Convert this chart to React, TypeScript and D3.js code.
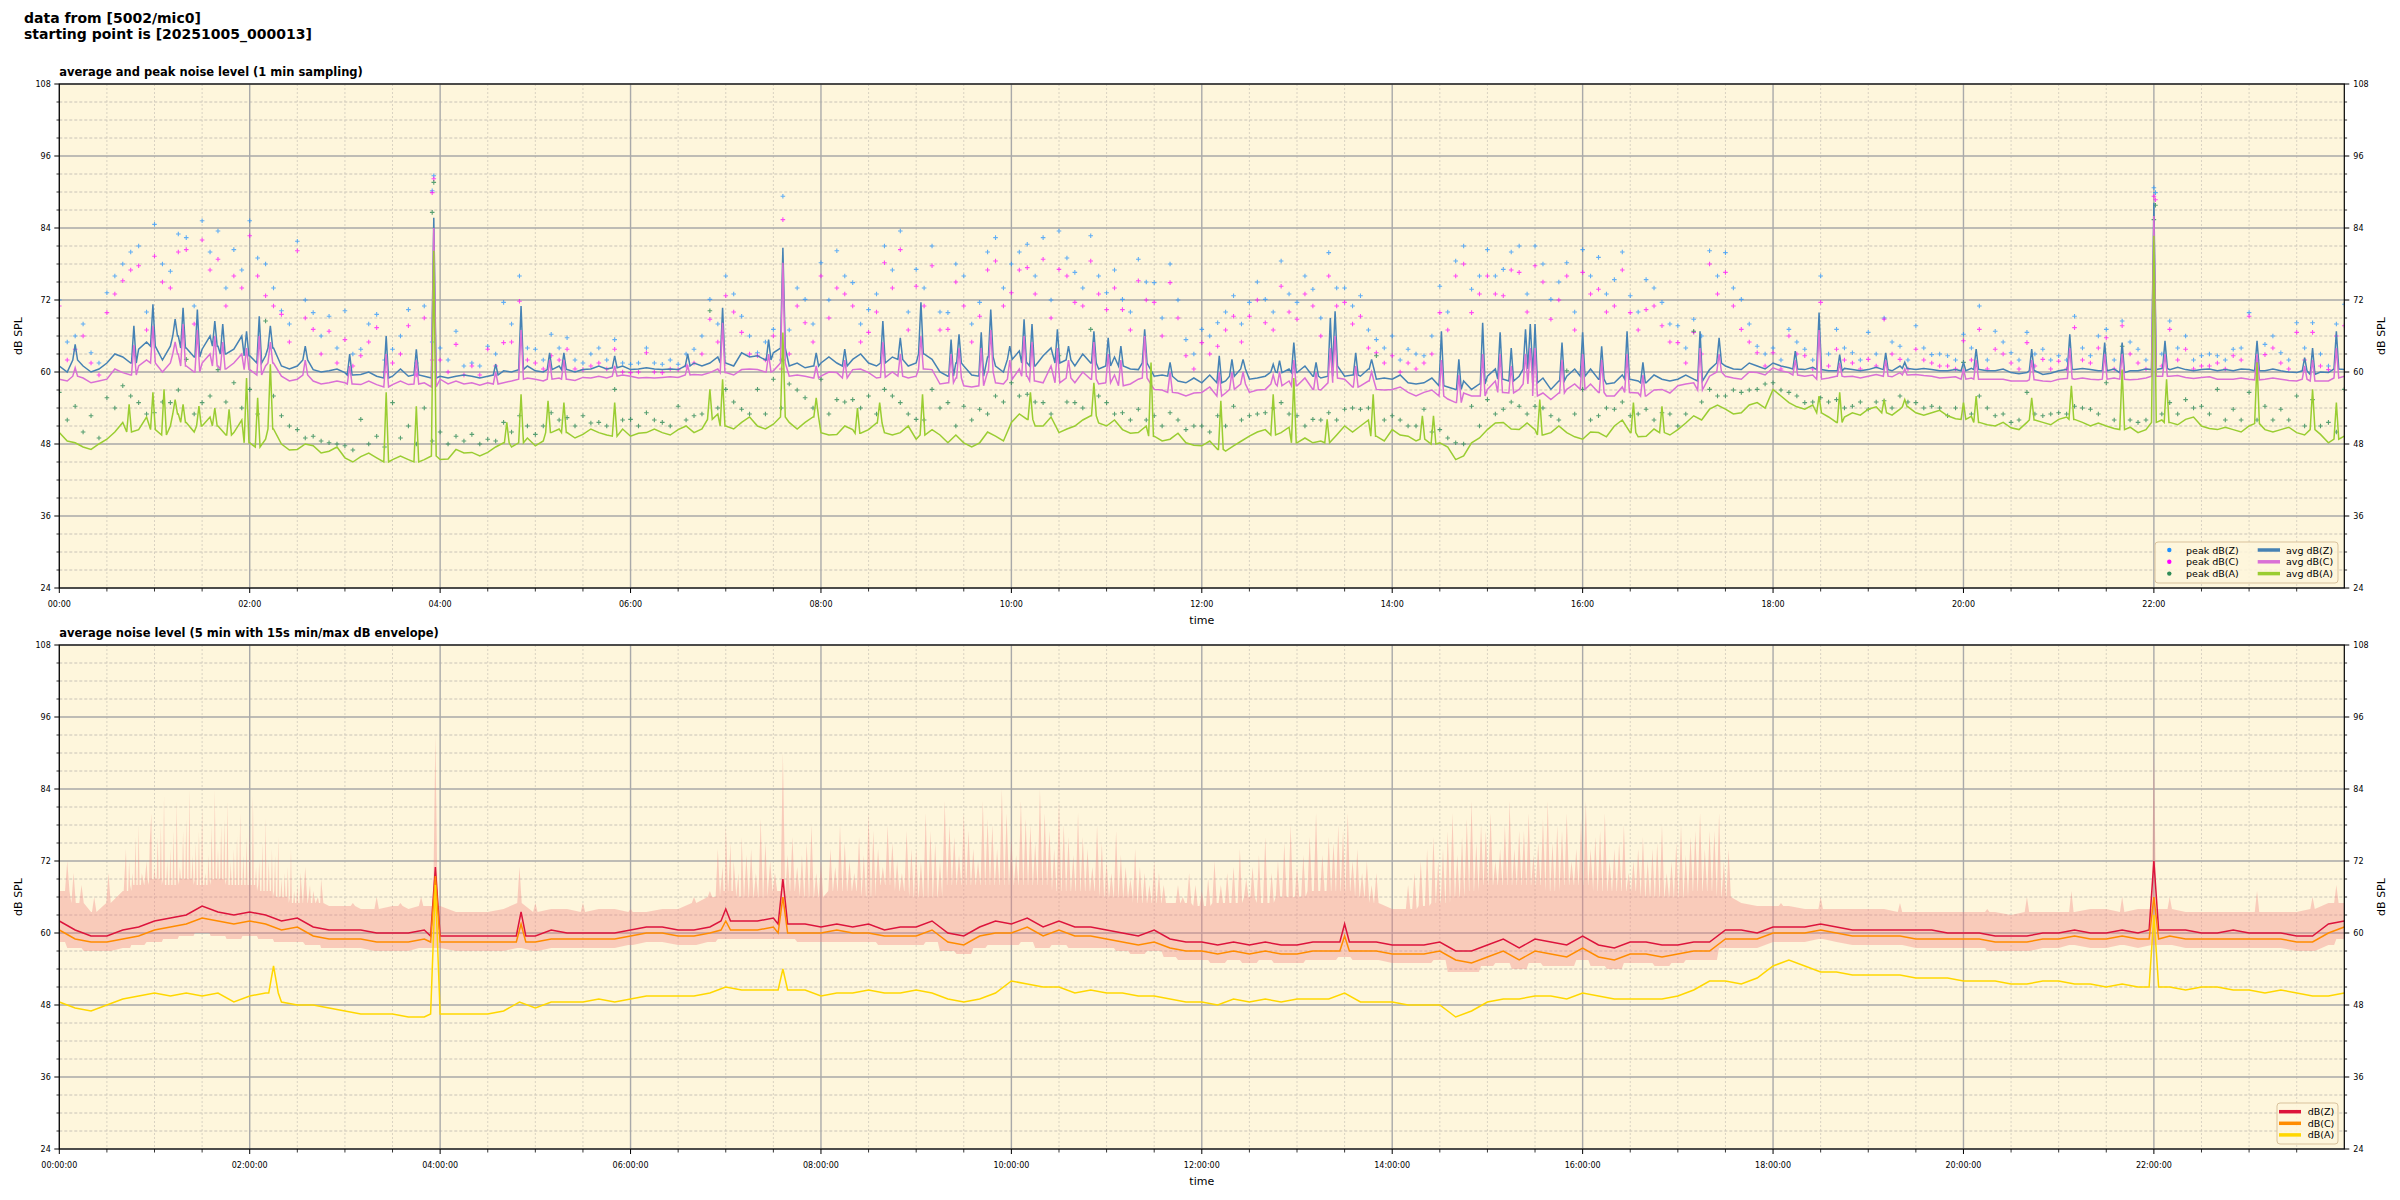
import React from 'react';
import * as d3 from 'd3';

// ---------- data (10-minute samples, index i -> minute i*10) ----------
const STEP = 10;

const avgZ = [
  61, 62, 60, 61.5, 62.5, 63.8,
  64.3, 64.3, 64, 63.8, 64.3, 63.8,
  62.7, 62.7, 61, 61, 60.4, 60.2,
  59.9, 59.6, 59.3, 59.3, 59.3, 59.3,
  59.3, 59.3, 59.3, 59.3, 60.2, 60.4,
  60.2, 60.4, 60.4, 60.4, 61, 60.7,
  60.4, 60.7, 60.4, 60.4, 61.5, 61.5,
  61.5, 63.2, 62.7, 63.2, 61, 60.7,
  61.5, 61.5, 62.1, 61.5, 61.5, 62.1,
  61.5, 62.1, 59.3, 61, 59.3, 61,
  62.1, 61.5, 62.7, 61.5, 61, 61.5,
  61, 61, 60.4, 59.3, 59.3, 58.2,
  58.2, 58.2, 59.3, 58.8, 59.3, 59.9,
  59.9, 59.3, 59.3, 59.3, 59.3, 58.8,
  58.8, 58.2, 58.2, 57.7, 57.1, 57.1,
  59.3, 58.8, 59.3, 58.2, 57.1, 59.3,
  59.3, 58.8, 58.2, 58.8, 58.2, 58.8,
  58.8, 58.8, 60.4, 61, 60.4, 61,
  61.5, 60.7, 60.4, 60.4, 60.2, 60.4,
  60.4, 60.4, 61, 60.4, 60.4, 60.2,
  60.2, 60.4, 60.2, 59.9, 59.9, 59.6,
  60.2, 60.4, 60.4, 60.2, 59.9, 60.2,
  60.4, 60.4, 60.4, 60.4, 60.2, 60.2,
  60.4, 60.2, 60.2, 59.9, 59.6, 59.9,
  60.4,
];
// readings 5 min after each grid point (minute i*10+5)
const avgZ2 = [
  60, 61, 60.5, 63, 61.5, 65,
  62, 66, 62.5, 66, 63, 66,
  61.5, 64, 60.5, 62, 60, 60.5,
  59.5, 60, 59, 60.5, 59.5, 59,
  59, 59.5, 59, 59.5, 60, 61,
  60, 61, 60, 60.5, 60.5, 61,
  60.5, 60.5, 60.5, 61, 61, 62.5,
  61, 62.5, 62, 64, 61.5, 61,
  62.5, 61, 63, 61, 62.5, 61,
  63, 60, 61.5, 59.5, 62.5, 60,
  63.5, 61, 64, 62, 63, 60.5,
  62.5, 60.5, 61.5, 59.5, 58.5, 59,
  59.5, 58.5, 60.5, 59, 60, 60.5,
  61, 59, 61, 59.5, 60.5, 59,
  59.5, 58, 59, 57.5, 58.5, 58,
  60.5, 58.5, 60.5, 59, 58.5, 60.5,
  60.5, 58, 59.5, 58.5, 59.5, 58.5,
  59.5, 58.5, 61.5, 60.5, 61.5, 60.5,
  61, 60.5, 60.8, 60.2, 60.6, 60.2,
  60.8, 60.2, 60.6, 60.6, 60.2, 60.4,
  60.6, 60.2, 60.5, 59.7, 60.2, 59.8,
  60.4, 60.6, 60.2, 60.5, 60.2, 60.5,
  60.6, 60.8, 60.2, 60.5, 60.4, 60.5,
  60.2, 60.5, 60, 60.2, 60, 60.5,
];
const avgC = [
  58.8, 59.3, 58.2, 58.8, 59.9, 61,
  61.5, 61.5, 61, 61.5, 61, 61.5,
  60.4, 61, 59.3, 58.8, 58.5, 58.2,
  58.2, 57.9, 57.9, 57.9, 57.9, 58.2,
  58.8, 58.5, 58.2, 58.2, 58.2, 58.8,
  58.8, 58.8, 58.8, 59.1, 59.3, 59.3,
  59.3, 59.1, 59.1, 59.1, 59.6, 59.9,
  59.9, 60.4, 60.4, 60.2, 59.3, 59.3,
  59.3, 59.9, 60.4, 59.9, 59.1, 59.3,
  59.3, 60.4, 58.2, 57.7, 57.7, 58.2,
  58.8, 59.3, 58.2, 58.2, 58.2, 58.8,
  58.2, 57.7, 58.8, 57.1, 56.6, 56,
  56.6, 56, 57.1, 56.6, 57.1, 57.7,
  57.7, 57.1, 58.2, 58.8, 57.7, 57.1,
  57.1, 56.6, 56.6, 56, 54.9, 56,
  57.1, 56.6, 57.1, 56, 55.4, 57.1,
  57.1, 56.6, 56, 56.6, 56, 57.1,
  57.7, 58.2, 59.3, 59.3, 58.8, 59.9,
  60.7, 59.9, 59.3, 58.8, 59.3, 59.3,
  59.3, 59.3, 59.9, 59.6, 59.3, 59.1,
  58.8, 58.8, 58.8, 58.5, 58.5, 58.5,
  58.8, 58.8, 58.8, 58.8, 58.8, 58.8,
  59.3, 59.3, 59.1, 59.1, 58.8, 58.8,
  58.8, 58.8, 58.8, 58.5, 58.5, 58.5,
  59.3,
];
const avgC2 = [
  58.5, 59, 58.5, 60.5, 59.5, 62,
  60, 63, 60, 63, 60.5, 63,
  59.5, 61.5, 58.5, 59.5, 58, 58.5,
  58, 58.5, 57.5, 58.5, 58, 57.5,
  58, 58, 57.8, 58, 58.5, 59,
  58.5, 59, 58.6, 59, 59, 59.5,
  59, 59, 59.2, 59.5, 59.5, 60.5,
  59.5, 60.5, 60, 61.5, 59.5, 59,
  60, 59, 60.5, 59, 60, 59,
  60.5, 58, 59, 57.5, 60, 58,
  60.5, 58.5, 61, 59, 60, 58,
  59.5, 58, 59, 57, 56.5, 56.5,
  57.5, 56.5, 58, 57, 58, 58.5,
  59, 57, 59, 57.5, 58.5, 57,
  57.5, 56, 57, 55.5, 56.5, 56,
  58.5, 56.5, 58, 56.5, 56.5, 58,
  58, 56, 57.5, 56.5, 57, 56.5,
  58, 57, 60, 59, 60, 59.5,
  60.2, 59.5, 59.5, 59, 59.2, 59,
  59.6, 59.2, 59.5, 59.4, 59, 59.2,
  59, 58.8, 58.8, 58.5, 58.7, 58.4,
  58.9, 59, 58.7, 59, 58.7, 59,
  59.3, 59.4, 58.9, 59.2, 58.8, 59,
  58.7, 59, 58.6, 58.8, 58.5, 59,
];
const avgA = [
  49.9, 48.2, 47.1, 48.8, 51.6, 50.4,
  50.4, 51, 51.6, 51, 51, 49.9,
  48.2, 48.8, 48, 47.1, 47.7, 46.8,
  45.7, 45.9, 45.7, 45.4, 45.4, 45.4,
  45.4, 47.1, 46.6, 46.6, 48.2, 48.2,
  47.7, 49.9, 49.9, 49.6, 49.9, 49.3,
  49.3, 49.9, 49.9, 50.4, 49.9, 52.1,
  51, 51.6, 51, 51.3, 51.6, 51.6,
  49.9, 49.6, 50.4, 50.4, 49.9, 49.9,
  48.8, 50.4, 48.2, 48.2, 48.2, 49.3,
  51.6, 52.1, 51, 49.9, 51, 52.7,
  51, 50.4, 49.9, 49.3, 48.8, 48.2,
  47.7, 47.1, 47.7, 49.3, 50.4, 49.9,
  48.2, 48.2, 48.2, 51, 51, 49.3,
  50.4, 49.3, 48.8, 48.2, 45.4, 48.2,
  50.4, 51.6, 50.4, 50.4, 49.9, 49.9,
  48.8, 49.9, 51, 49.9, 49.3, 49.9,
  50.4, 52.7, 53.8, 53.8, 53.2, 54.9,
  57.1, 54.9, 53.8, 53.2, 51.6, 53.2,
  53.8, 53.2, 53.8, 53.2, 53.2, 52.7,
  52.1, 51.6, 51, 50.7, 51.6, 51.6,
  52.1, 52.1, 51, 51, 50.4, 49.9,
  51.6, 51.6, 52.1, 51, 50.4, 50.4,
  51, 50.4, 50.4, 49.9, 50.4, 48.2,
  49.3,
];
const avgA2 = [
  48.5, 47.5, 48, 50, 50, 52.5,
  49.5, 53, 50, 52.5, 49.5, 52,
  47.5, 50.5, 47, 48, 46.5, 47.5,
  45, 46.5, 45, 46, 45, 46,
  45.5, 46.5, 46, 47.5, 47.5, 49,
  48.5, 50.5, 49, 50.5, 49.5, 50.5,
  49.8, 50.5, 49.5, 51, 50.5, 53,
  50.5, 52.5, 50.5, 52.5, 50.5, 52.5,
  49.5, 51, 49.8, 51.5, 49.5, 51,
  49.5, 49.5, 49.5, 47.5, 50, 48.5,
  53, 51, 52.5, 50.5, 52, 51.5,
  52, 49.8, 51, 48.5, 49.8, 47.8,
  48.5, 46.8, 48.5, 50, 49.5, 50.8,
  49, 48.5, 49.5, 50, 52, 48.5,
  49.5, 48.5, 48, 47.5, 46, 49,
  51.5, 50.5, 51.5, 49.5, 51, 49.2,
  50, 49.2, 52, 49.2, 50.5, 49.5,
  51.5, 52, 54.5, 53, 54.5, 54,
  56, 54.2, 54.5, 52.5, 52.5, 52.8,
  54.2, 52.8, 54.2, 52.8, 53.6, 52.2,
  52.6, 51.2, 51.6, 50.4, 52, 51.2,
  52.5, 51.6, 51.5, 50.6, 50.8, 50.4,
  52, 51.2, 52.5, 50.6, 50.8, 50,
  51.4, 50, 50.8, 49.5, 49.6, 48.8,
];

// narrow events in the 1-min averages: [minute, dB]
const spikesZ = [
  [10, 64.6], [47, 67.7], [59, 71.3], [73, 68.8], [78, 70.7], [87, 70.4], [98, 68.5], [103, 68], [118, 66.8], [126, 69.3], [133, 67.7], [155, 64.3], [183, 63], [206, 66], [225, 63.8], [236, 85.7], [275, 61.3], [291, 71], [309, 63.2], [318, 63.2], [350, 62.7],
  [396, 63], [418, 70.7], [447, 65.4], [456, 80.7], [477, 63.2], [495, 63.8], [519, 68.5], [530, 65.7], [543, 71.6], [562, 65.4], [567, 66.3], [581, 66.6], [587, 70.4], [599, 64.3], [608, 68.8], [613, 68], [629, 67.1], [636, 64.3], [652, 66.8], [661, 65.7], [669, 64.3], [684, 67.1], [700, 61.6],
  [731, 62.7], [739, 62.1], [746, 62.1], [765, 61.3], [769, 61.9], [778, 64.9], [792, 61.6], [801, 69], [804, 70.1], [817, 63.2], [827, 62.1], [871, 66.8], [882, 62.1], [897, 68.2], [908, 66.6], [915, 64], [924, 67.1], [927, 68], [930, 68], [947, 64.9], [960, 66.6], [972, 64.3], [988, 66.8], [998, 61.6], [1034, 66.8], [1046, 65.7],
  [1094, 63.5], [1109, 69.9], [1122, 62.9], [1151, 63.2], [1163, 61.6], [1200, 61.6], [1208, 63.8], [1243, 63.8], [1267, 66.3], [1289, 64.9], [1300, 64.9], [1320, 88.2], [1327, 65.2], [1385, 65.2], [1415, 62.4], [1420, 64], [1435, 66.8],
];
const spikesC = [
  [10, 60.7], [47, 64.5], [59, 67.7], [73, 65], [78, 68], [87, 67], [98, 66], [103, 65], [118, 64], [126, 66], [133, 65], [155, 62], [183, 61], [206, 63], [225, 62], [236, 84], [275, 60], [291, 67], [309, 62], [318, 62], [350, 61],
  [396, 61], [418, 68.2], [447, 63], [456, 78.2], [477, 61], [495, 62], [519, 65], [530, 63], [543, 66], [562, 63], [567, 64], [581, 64], [587, 67], [599, 62], [608, 66], [613, 65], [629, 64], [636, 62], [652, 65], [661, 63], [669, 62], [684, 66], [700, 60],
  [731, 60], [739, 60], [746, 60], [765, 59.5], [769, 60], [778, 62], [792, 60], [801, 64], [804, 66], [817, 61], [827, 60], [871, 62], [882, 59.5], [897, 63], [908, 63], [915, 61], [924, 63], [927, 64], [930, 64], [947, 62], [960, 63], [972, 62], [988, 63], [998, 59.5], [1034, 64], [1046, 63],
  [1094, 62], [1109, 67], [1122, 61.5], [1151, 62], [1163, 60.5], [1200, 60.5], [1208, 62], [1243, 62], [1267, 64], [1289, 63], [1300, 63], [1320, 86], [1327, 63], [1385, 63], [1415, 61], [1420, 62], [1435, 64],
];
const spikesA = [
  [44, 54.6], [59, 56.6], [66, 57.1], [73, 55.4], [78, 54.6], [88, 54.3], [98, 54], [107, 53.8], [118, 59], [125, 55.7], [133, 61.3], [206, 56.6], [225, 54.3], [236, 80.2], [282, 51.6], [291, 56.3], [308, 55.2], [318, 54.9], [350, 54.9],
  [410, 57.1], [418, 58.8], [456, 66.6], [477, 55.7], [503, 54], [517, 54.9], [544, 56.3], [612, 56.6], [652, 58.2], [688, 61.6],
  [732, 55.2], [765, 56.3], [778, 59], [799, 52.1], [828, 56.3], [859, 52.7], [866, 52.7], [933, 55.4], [992, 54.9], [1010, 54.3],
  [1109, 56], [1122, 56.6], [1150, 55.4], [1163, 55.4], [1200, 54.9], [1208, 56], [1243, 55.7], [1268, 57.7], [1300, 60.4], [1320, 82.7], [1328, 58.8], [1385, 61.6], [1420, 57.1], [1435, 54.9],
];

// peak readings on the 10-min grid
const peakZ = [
  72, 66, 63.2, 73.2, 78, 81,
  84.6, 76.8, 82.4, 85.2, 83.5, 80.4,
  85.2, 78, 70.2, 81.8, 69.9, 69.3,
  70.2, 63.8, 69.6, 63.8, 70.4, 71,
  64, 66.8, 61.5, 64.3, 71.6, 76,
  63.8, 66.3, 65.7, 61.5, 64, 65.4,
  61.3, 64, 61.3, 61.3, 63.8, 72.1,
  76, 69.3, 63.2, 67.1, 67, 72.1,
  78.2, 80.2, 74.9, 70.4, 81, 83.5,
  77.1, 81, 69.9, 76, 71.6, 82.4,
  78, 81.3, 82.4, 83.5, 76.6, 82.7,
  73.2, 72.1, 78.8, 74.9, 78, 65.4,
  67.1, 68.2, 72.7, 71.6, 72.1, 78.5,
  71.6, 73.8, 79.9, 74, 72.7, 65.4,
  66, 63.8, 62.7, 74.3, 78.5, 73.8,
  80.4, 77.1, 81, 81, 72.1, 78.2,
  80.4, 79.1, 75.4, 72.7, 75.4, 71.6,
  67.7, 68.8, 80.2, 79.9, 72.1, 64.3,
  64, 67.1, 63.8, 76, 67.1, 63.2,
  66.6, 69, 64.3, 67.7, 62.9, 62.7,
  66.3, 71, 66.8, 63.2, 66.6, 63.8,
  62.7, 69.3, 62.7, 67.1, 68.5, 63.8,
  90.7, 68.5, 66, 62.7, 62.7, 63.8,
  69.9, 64.6, 63.2, 68.2, 68.2, 61,
  71.3,
];
const peakC = [
  71, 63.8, 61.5, 69.9, 75.2, 77.7,
  79.3, 74, 80.4, 82, 78.8, 76,
  82.7, 72.7, 69.6, 80.2, 67.1, 66.8,
  65.4, 62.7, 67.4, 61.5, 67.7, 69,
  62, 64.6, 61, 63.8, 64.9, 71.8,
  61.5, 62.7, 63.8, 60.4, 61.5, 63.8,
  59.9, 63.2, 59.9, 60.4, 61.5, 68.8,
  72.7, 66.6, 62.7, 66, 63, 68.2,
  76, 74, 71, 66.6, 78.2, 80.4,
  74.3, 77.7, 67.1, 71, 69.3, 78.5,
  73.2, 77.4, 78.8, 77.1, 71.6, 78.5,
  70.4, 70.4, 75.2, 71.6, 74.9, 62.7,
  64.9, 64.3, 69.3, 69.3, 68.2, 74.3,
  68.8, 71, 76, 71.6, 69.3, 63.2,
  62.7, 61.5, 61.5, 69.9, 76, 69.9,
  76, 72.7, 76.6, 77.7, 68.8, 76,
  76.6, 73.8, 71, 69.9, 70.4, 67.7,
  64.9, 66.6, 78, 76.6, 67.1, 63.2,
  63.2, 66, 62.7, 71.6, 63.8, 61.5,
  62.1, 68.8, 62.1, 63.8, 61.5, 61,
  65.2, 67.1, 63.8, 61.5, 64.9, 62.1,
  61.8, 67.4, 61.5, 65.7, 67.7, 61.5,
  89.3, 67.1, 63.8, 61, 61.5, 62.7,
  69.3, 62.9, 61.5, 66.6, 66.6, 60.4,
  67.7,
];
const peakA = [
  56.6, 54.3, 52.7, 55.7, 57.7, 54.9,
  53.2, 54.9, 62.1, 54.9, 60.4, 58.2,
  57.1, 68.5, 52.7, 50.4, 49.3, 48.2,
  47.7, 52.1, 49.3, 54.9, 51, 54,
  50, 49.3, 49.6, 48.8, 51.6, 52.7,
  49.6, 53.2, 52.4, 52.7, 51.6, 57.1,
  52.1, 53.2, 51.6, 54.3, 52.7, 70.2,
  57.1, 53.8, 57.1, 58.8, 58, 55.7,
  58.8, 55.4, 55.4, 56, 57.1, 54.9,
  52.1, 57.1, 54.9, 54.3, 53.8, 56,
  58.2, 56.3, 54.9, 62.7, 54.9, 67.1,
  54.9, 53.2, 53.8, 52.7, 53.2, 50.4,
  51, 52.7, 54.3, 52.7, 53.2, 54.9,
  52.7, 52.1, 53.2, 53.8, 53.8, 62.7,
  52.7, 51, 53.8, 50.4, 48.2, 54.3,
  55.4, 53.8, 54.3, 54.3, 52.7, 60.2,
  57.1, 52.7, 53.8, 52.7, 53.8, 53.2,
  51, 66.8, 57.1, 56, 56.6, 57.1,
  58.2, 56.6, 54.9, 55.7, 55.4, 54.3,
  53.8, 55.2, 56, 54.9, 54.3, 52.7,
  61.6, 56, 52.7, 51.6, 56.6, 52.7,
  53.2, 54.3, 53.8, 58.2, 64.3, 51.6,
  85.4, 54.9, 55.4, 54.3, 57.1, 53.8,
  56.6, 54.3, 53.8, 56, 55.4, 51.6,
  57.1,
];
// peak readings 5 min after each grid point (minute i*10+5)
const peakZ2 = [
  65, 68, 61.5, 76, 80, 70,
  78, 83, 71, 80, 74, 77,
  79, 74, 68, 72, 66, 64,
  63, 68, 62, 66, 61.5, 65,
  62, 61, 61, 63, 68, 64,
  62, 64, 62, 63, 62, 61.5,
  61.5, 61.5, 62, 63, 66, 68,
  73, 66, 65, 62, 74, 68,
  72, 76, 68, 73, 77, 70,
  74, 70, 78, 68, 80, 74,
  80, 76, 72, 79, 74, 76,
  77, 70, 75, 69, 72, 63,
  66, 70, 68, 75, 70, 73,
  76, 69, 74, 71, 67, 64,
  62, 63, 66, 70, 81, 76,
  76, 80, 73, 78, 75, 70,
  76, 73, 80, 70, 74, 68,
  64, 66, 76, 74, 68, 63,
  62, 65, 62, 63, 64, 62,
  63, 65, 62, 64, 63, 62,
  64, 62, 65, 62, 63, 62,
  62, 64, 66, 62, 65, 62,
  63, 64, 62, 63, 62, 64,
  62, 66, 62, 64, 63, 68,
];
const peakC2 = [
  62, 66, 59.5, 73, 77, 67,
  75, 80, 68, 77, 71, 74,
  76, 71, 65, 69, 63, 61.5,
  61, 65, 60, 63, 59.5, 62,
  60, 59.5, 59.5, 61, 65, 62,
  60.5, 62, 60.5, 61, 60.5, 60,
  60, 60, 60.5, 61, 63, 65,
  70, 63, 62, 60.5, 71, 65,
  69, 73, 65, 70, 74, 67,
  71, 67, 75, 65, 77, 71,
  77, 73, 69, 76, 71, 73,
  74, 67, 72, 66, 69, 60.5,
  63, 67, 65, 72, 67, 70,
  73, 66, 71, 68, 64, 61.5,
  60, 60.5, 63, 67, 78, 73,
  73, 77, 70, 75, 72, 67,
  73, 70, 77, 67, 71, 65,
  61.5, 63, 73, 71, 65, 61,
  60.5, 63, 60.5, 61, 62, 60.5,
  61, 63, 60.5, 62, 61, 60.5,
  62, 60.5, 63, 60.5, 61, 60.5,
  60.5, 62, 64, 60.5, 63, 60.5,
  61, 62, 60.5, 61, 60.5, 62,
  60.5, 64, 60.5, 62, 61, 66,
];
const peakA2 = [
  52, 50, 49, 54, 56, 53,
  55, 57, 53, 56, 55, 54,
  53, 56, 51, 49, 48.5, 48,
  47, 48, 47.5, 49, 48, 48.5,
  48, 48.5, 48, 48.5, 50, 51,
  51, 52, 51, 51.5, 51, 52,
  51, 52, 51, 52, 53, 54,
  55, 53, 53, 54, 57, 54,
  53, 55, 54, 53, 56, 53,
  52, 54, 51, 52, 53, 55,
  56, 55, 53, 55, 54, 56,
  53, 52, 52, 51, 52, 51,
  50, 51, 52, 53, 54, 53,
  51, 52, 52, 54, 54, 52,
  52, 51, 50, 49, 48, 51,
  53, 55, 53, 54, 52, 53,
  52, 54, 55, 53, 52, 53,
  53, 55, 56, 57, 57, 58,
  57, 56, 55, 55, 54, 55,
  55, 54, 55, 54, 54, 54,
  53, 54, 53, 52, 53, 53,
  53, 54, 53, 52, 52, 52,
  53, 53, 54, 53, 52, 52,
  52, 52, 52, 51, 51, 50,
];
// extra peak readings at the loud events: [minute, Z, C, A]
const peakEvents = [
  [235, 90.2, 89.9, 86.6], [236, 92.7, 92.2, 91.6],
  [456, 89.3, 85.4, 62],
  [1321, 89.9, 88.7, 87.8],
];

// bottom panel: 5-min averages read every 10 min
const botZ = [
  62, 60.5, 59.5, 59.5, 60.5, 61,
  62, 62.5, 63, 64.5, 63.5, 63,
  63.5, 63, 62, 62.5, 61, 60.5,
  60.5, 60.5, 60, 60, 60, 60.5,
  59.5, 59.5, 59.5, 59.5, 59.5, 59.5,
  59.5, 60.5, 60, 60, 60, 60,
  60.5, 61, 61, 60.5, 60.5, 61,
  62, 62, 62, 62.5, 61.5, 61.5,
  61, 61.5, 61, 61.5, 60.5, 61,
  61, 62, 60, 59.5, 61, 62,
  61.5, 62.5, 61, 62, 61, 61,
  60.5, 60, 59.5, 60.5, 59, 58.5,
  58.5, 58, 58.5, 58, 58.5, 58,
  58, 58.5, 58.5, 58.5, 58.5, 58.5,
  58, 58, 58, 58.5, 57, 57,
  58, 59, 57.5, 59, 58.5, 58,
  59.5, 58, 57.5, 58.5, 58.5, 58,
  58, 58.5, 58.5, 60.5, 60.5, 60,
  61, 61, 61, 61.5, 61, 60.5,
  60.5, 60.5, 60.5, 60.5, 60.5, 60,
  60, 60, 59.5, 59.5, 59.5, 60,
  60, 60.5, 60, 60, 60.5, 60,
  60.5, 60.5, 60.5, 60, 60, 60.5,
  60, 60, 60, 59.5, 59.5, 61.5,
  62,
];
const botC = [
  60.5, 59, 58.5, 58.5, 59, 59.5,
  60.5, 61, 61.5, 62.5, 62, 61.5,
  62, 61.5, 60.5, 61, 59.5, 59,
  59, 59, 58.5, 58.5, 58.5, 59,
  58.5, 58.5, 58.5, 58.5, 58.5, 58.5,
  58.5, 59, 59, 59, 59, 59,
  59.5, 60, 60, 59.5, 59.5, 60,
  60.5, 60.5, 60.5, 61, 60, 60,
  60, 60.5, 60, 60, 59.5, 59.5,
  59.5, 60.5, 58.5, 58, 59.5, 60,
  60, 61, 59.5, 60.5, 59.5, 59.5,
  59, 58.5, 58, 58.5, 57.5, 57,
  57, 56.5, 57, 56.5, 57, 56.5,
  56.5, 57, 57, 57, 57, 57,
  56.5, 56.5, 56.5, 57, 55.5, 55,
  56, 57, 55.5, 57, 56.5, 56,
  57.5, 56, 55.5, 56.5, 56.5, 56,
  56.5, 57, 57, 59, 59, 59,
  60, 60, 60, 60.5, 60, 59.5,
  59.5, 59.5, 59.5, 59, 59, 59,
  59, 59, 58.5, 58.5, 58.5, 59,
  59, 59.5, 59, 59, 59.5, 59,
  59, 59.5, 59, 59, 59, 59,
  59, 59, 59, 58.5, 58.5, 60,
  61,
];
const botA = [
  48.5, 47.5, 47, 48, 49, 49.5,
  50, 49.5, 50, 49.5, 50, 48.5,
  49.5, 50, 48.5, 48, 48, 47.5,
  47, 46.5, 46.5, 46.5, 46, 46,
  46.5, 46.5, 46.5, 46.5, 47, 48.5,
  47.5, 48.5, 48.5, 48.5, 49, 48.5,
  49, 49.5, 49.5, 49.5, 49.5, 50,
  51, 50.5, 50.5, 50.5, 50.5, 50.5,
  49.5, 50, 50, 50.5, 50, 50,
  50.5, 50, 49, 48.5, 49, 50,
  52, 51.5, 51, 51, 50, 50.5,
  50, 50, 49.5, 49.5, 49, 48.5,
  48.5, 48, 49, 48.5, 49, 48.5,
  49, 49, 49, 50, 48.5, 48.5,
  48.5, 48, 48, 48, 46, 47,
  48.5, 49, 49, 49.5, 49.5, 49,
  50, 49.5, 49, 49, 49, 49,
  49.5, 50.5, 52, 52, 51.5, 52.5,
  54.5, 55.5, 54.5, 53.5, 53.5, 53,
  53, 53, 53, 52.5, 52.5, 52.5,
  52, 52, 52, 51.5, 51.5, 52,
  52, 51.5, 51.5, 51, 51.5, 51,
  51, 51, 50.5, 51, 51, 50.5,
  50.5, 50, 50.5, 50, 49.5, 49.5,
  50,
];
const botSpikesZ = [[237, 71], [291, 63.5], [420, 64], [456, 69], [810, 61.5], [1320, 72]];
const botSpikesC = [[237, 69.5], [291, 61.5], [420, 62], [456, 66], [810, 59.5], [1320, 66]];
const botSpikesA = [[135, 54.5], [237, 68], [456, 54], [1320, 63]];

// upper edge of the dense part of the 15 s envelope
const envMax = [
  67, 65, 63.5, 65, 67, 68,
  69, 68, 69, 68, 69, 68,
  68, 67, 66, 65, 65, 64.5,
  64.5, 64, 64, 64.5, 64, 64.5,
  64.5, 63.5, 63.5, 63.5, 64, 65,
  63.5, 64, 64, 63.5, 64, 64,
  63.5, 63.5, 64, 64, 65, 66,
  67, 66, 66, 67, 67, 66,
  66, 67, 67, 66, 68, 67,
  66, 66, 68, 68, 68, 68,
  68, 68, 68, 67, 67, 67,
  66, 66, 65, 65, 65, 65,
  64.5, 65, 65, 66, 65, 66,
  66, 67, 67, 67, 66, 65,
  64, 64, 64.5, 65, 66, 67,
  68, 68, 68, 68, 67, 68,
  68, 67, 67, 67, 66, 66,
  66, 67, 67, 66, 65, 64.5,
  64.5, 64.5, 64, 64, 64, 64,
  64, 64, 63.5, 63.5, 63.5, 63.5,
  63.5, 63.5, 63.5, 63, 63.5, 63.5,
  63.5, 63.5, 64, 64, 63.5, 64,
  64, 64, 63.5, 63.5, 63.5, 63.5,
  63.5, 63.5, 63.5, 63.5, 64, 65,
  65,
];
// individual 15 s maxima that stick out of the envelope: [minute, dB]
const envSpikes = [
  [5, 72], [9, 70], [14, 68], [22, 66], [31, 70],
  [42, 74], [46, 70], [50, 78], [55, 72], [58, 80], [62, 76], [66, 83], [70, 74], [74, 82], [78, 77], [82, 84], [86, 75], [90, 81], [94, 73], [98, 84], [102, 78], [106, 82], [110, 74], [114, 80], [118, 76], [122, 83], [126, 72], [130, 79], [134, 74], [138, 76], [142, 70], [146, 74], [150, 68], [155, 71], [160, 67], [165, 69],
  [185, 65], [200, 66], [215, 65], [228, 66], [237, 93],
  [290, 71], [300, 65], [330, 65], [360, 64], [400, 66], [410, 67],
  [415, 74], [420, 78], [425, 72], [430, 76], [436, 74], [442, 79], [448, 72], [456, 90], [462, 76], [468, 73], [474, 78], [480, 72],
  [486, 74], [492, 78], [498, 72], [504, 76], [510, 80], [516, 74], [522, 78], [528, 72], [534, 77], [540, 74], [546, 80], [552, 75], [558, 82], [564, 76], [570, 80], [576, 74], [582, 82], [588, 78], [594, 84], [600, 76], [606, 82], [612, 78], [618, 84], [624, 77], [630, 82], [636, 76], [642, 80], [648, 74], [654, 78], [660, 72], [666, 77], [672, 71], [678, 74], [684, 70], [690, 72], [696, 68],
  [705, 68], [712, 70], [720, 67], [728, 72], [736, 70], [744, 74], [752, 71], [760, 76], [768, 72], [776, 78], [784, 73], [792, 80], [800, 76], [806, 78], [812, 80], [818, 74], [824, 72], [830, 70],
  [850, 68], [858, 72], [866, 76], [872, 74], [878, 80], [884, 76], [890, 82], [896, 78], [902, 80], [908, 74], [914, 82], [920, 77], [926, 80], [932, 75], [938, 82], [944, 78], [950, 80], [956, 74], [962, 82], [968, 76], [974, 80], [980, 74], [986, 78], [992, 72], [998, 76], [1004, 74], [1010, 78], [1016, 72], [1022, 78], [1028, 76], [1034, 80], [1040, 77], [1046, 80], [1052, 74],
  [1085, 65], [1110, 66], [1160, 65], [1215, 64], [1240, 66], [1268, 67], [1300, 66], [1320, 91], [1330, 66], [1385, 67], [1420, 66], [1435, 68],
  [44, 72], [48, 76], [52, 70], [57, 75], [60, 71], [64, 78], [68, 72], [72, 77], [76, 71], [80, 79], [84, 73], [88, 77], [92, 70], [96, 78], [100, 74], [104, 79], [108, 72], [112, 76], [116, 73], [120, 78], [124, 71], [128, 75], [132, 72], [136, 73], [140, 69], [144, 71], [148, 67], [152, 70], [158, 68], [163, 66],
  [418, 71], [423, 75], [428, 70], [433, 73], [439, 70], [445, 75], [451, 70], [459, 73], [465, 71], [471, 75], [477, 70],
  [489, 71], [495, 75], [501, 70], [507, 73], [513, 77], [519, 71], [525, 75], [531, 70], [537, 74], [543, 72], [549, 77], [555, 72], [561, 78], [567, 73], [573, 77], [579, 72], [585, 79], [591, 74], [597, 80], [603, 73], [609, 79], [615, 75], [621, 80], [627, 74], [633, 78], [639, 73], [645, 76], [651, 71], [657, 75], [663, 70], [669, 73], [675, 69], [681, 71], [687, 68], [693, 70],
  [708, 66], [716, 68], [724, 69], [732, 68], [740, 71], [748, 69], [756, 73], [764, 70], [772, 75], [780, 71], [788, 76], [796, 73], [803, 75], [809, 77], [815, 72], [821, 70], [827, 68],
  [854, 70], [862, 74], [869, 72], [875, 77], [881, 73], [887, 79], [893, 75], [899, 77], [905, 72], [911, 78], [917, 74], [923, 77], [929, 73], [935, 79], [941, 75], [947, 77], [953, 72], [959, 79], [965, 74], [971, 77], [977, 72], [983, 75], [989, 70], [995, 74], [1001, 72], [1007, 75], [1013, 70], [1019, 75], [1025, 73], [1031, 77], [1037, 74], [1043, 77], [1049, 72],
];
const envMin = [
  58.5, 57.5, 57, 57, 57.5, 58,
  58.5, 59, 59.5, 60, 59.5, 59,
  59.5, 59, 58.5, 58.5, 58, 57.5,
  57.5, 57.5, 57, 57, 57, 57.5,
  57.5, 57, 57, 57, 57, 57.5,
  57, 57.5, 57.5, 57.5, 57.5, 57.5,
  58, 58.5, 58.5, 58, 58, 58.5,
  59, 59, 59, 59, 59, 58.5,
  58.5, 58.5, 58.5, 58.5, 58, 58,
  58, 58.5, 57, 56.5, 57.5, 58,
  58, 58.5, 57.5, 58, 57.5, 57.5,
  57.5, 57, 56.5, 57, 56, 55.5,
  55.5, 55, 55.5, 55, 55.5, 55,
  55, 55.5, 55.5, 56, 55.5, 55.5,
  55, 55, 55, 55.5, 53.5, 53.5,
  54.5, 55, 54, 55, 54.5, 54.5,
  55.5, 54.5, 54, 55, 55, 54.5,
  55, 55.5, 55.5, 57.5, 57.5, 57.5,
  58.5, 58.5, 58.5, 59, 58.5, 58,
  58, 58, 58, 57.5, 57.5, 57.5,
  57.5, 57.5, 57, 57, 57, 57.5,
  57.5, 58, 57.5, 57.5, 58, 57.5,
  58, 58, 57.5, 57.5, 57.5, 57.5,
  57.5, 57.5, 57.5, 57, 57, 58,
  59,
];

// ---------- helpers ----------
type Pt = [number, number];

const gridPts = (arr: number[], off: number): Pt[] => arr.map((v, i) => [i * STEP + off, v] as Pt);

// merge base readings with narrow spikes; spike shoulders sit on the nearest base reading
function buildLine(base: Pt[], spikes: number[][], half: number): Pt[] {
  const sorted = [...base].sort((a, b) => a[0] - b[0]);
  const nearest = (m: number) => {
    let best = sorted[0];
    for (const p of sorted) if (Math.abs(p[0] - m) < Math.abs(best[0] - m)) best = p;
    return best[1];
  };
  const pts: Pt[] = sorted.filter((p) => !spikes.some((s) => Math.abs(s[0] - p[0]) <= half));
  spikes.forEach(([m, v]) => {
    const nb = nearest(m);
    pts.push([m - half, nb], [m, v], [m + half, nb]);
  });
  pts.sort((a, b) => a[0] - b[0]);
  return pts;
}

const X_L = 59.3;
const X_R = 2344.3;
const FONT = 'DejaVu Sans';
const BG = '#fef6dc';

const pad2 = (n: number) => String(n).padStart(2, '0');

function Frame({ x, y, y0, y1, fmt, layer }: any) {
  const xMaj = d3.range(0, 1440, 120);
  const xMin = d3.range(30, 1440, 30).filter((m) => m % 120 !== 0);
  const yMaj = d3.range(24, 109, 12);
  const yMin = d3.range(24, 109, 3).filter((v) => v % 12 !== 0);
  if (layer === 'back') {
    return (
      <g>
        <rect x={X_L} y={y0} width={X_R - X_L} height={y1 - y0} fill={BG} />
        {yMin.map((v) => (
          <line key={'hm' + v} x1={X_L} x2={X_R} y1={y(v)} y2={y(v)} stroke="#bdb8ae" strokeWidth={0.8} strokeDasharray="3,2" />
        ))}
        {xMin.map((m) => (
          <line key={'vm' + m} x1={x(m)} x2={x(m)} y1={y0} y2={y1} stroke="#cfc9bb" strokeWidth={0.8} strokeDasharray="2,2" />
        ))}
        {yMaj.map((v) => (
          <line key={'hM' + v} x1={X_L} x2={X_R} y1={y(v)} y2={y(v)} stroke="#a9a9a9" strokeWidth={1.4} />
        ))}
        {xMaj.map((m) => (
          <line key={'vM' + m} x1={x(m)} x2={x(m)} y1={y0} y2={y1} stroke="#a9a9a9" strokeWidth={1.4} />
        ))}
      </g>
    );
  }
  return (
    <g fontFamily={FONT} fill="#000">
      <rect x={X_L} y={y0} width={X_R - X_L} height={y1 - y0} fill="none" stroke="#000" strokeWidth={1.2} />
      {yMaj.map((v) => (
        <g key={'yt' + v}>
          <line x1={X_L - 5} x2={X_L} y1={y(v)} y2={y(v)} stroke="#000" strokeWidth={1} />
          <line x1={X_R} x2={X_R + 5} y1={y(v)} y2={y(v)} stroke="#000" strokeWidth={1} />
          <text x={X_L - 8.5} y={y(v)} fontSize={8} textAnchor="end" dominantBaseline="central">{v}</text>
          <text x={X_R + 9} y={y(v)} fontSize={8} textAnchor="start" dominantBaseline="central">{v}</text>
        </g>
      ))}
      {yMin.map((v) => (
        <g key={'ymt' + v}>
          <line x1={X_L - 2.8} x2={X_L} y1={y(v)} y2={y(v)} stroke="#000" strokeWidth={0.8} />
          <line x1={X_R} x2={X_R + 2.8} y1={y(v)} y2={y(v)} stroke="#000" strokeWidth={0.8} />
        </g>
      ))}
      {xMaj.map((m) => (
        <g key={'xt' + m}>
          <line x1={x(m)} x2={x(m)} y1={y1} y2={y1 + 5} stroke="#000" strokeWidth={1} />
          <text x={x(m)} y={y1 + 18.5} fontSize={8} textAnchor="middle">{fmt(m)}</text>
        </g>
      ))}
      {xMin.map((m) => (
        <line key={'xmt' + m} x1={x(m)} x2={x(m)} y1={y1} y2={y1 + 3.5} stroke="#000" strokeWidth={0.8} />
      ))}
      <text x={(X_L + X_R) / 2} y={y1 + 36} fontSize={11} textAnchor="middle">time</text>
      <text transform={`translate(18.5,${(y0 + y1) / 2}) rotate(-90)`} fontSize={11} textAnchor="middle" dominantBaseline="central">dB SPL</text>
      <text transform={`translate(2381.5,${(y0 + y1) / 2}) rotate(-90)`} fontSize={11} textAnchor="middle" dominantBaseline="central">dB SPL</text>
    </g>
  );
}

function plusPath(pts: Pt[], x: any, y: any) {
  return pts.map(([m, v]) => `M${x(m) - 2.3},${y(v)}h4.6M${x(m)},${y(v) - 2.3}v4.6`).join('');
}

export default function App() {
  const x = d3.scaleLinear().domain([0, 1440]).range([X_L, X_R]);
  const yT = d3.scaleLinear().domain([24, 108]).range([588, 84]);
  const yB = d3.scaleLinear().domain([24, 108]).range([1149, 645]);

  const lineT = d3.line<Pt>().x((d) => x(d[0])).y((d) => yT(d[1]));
  const lineB = d3.line<Pt>().x((d) => x(d[0])).y((d) => yB(d[1]));

  const tZ = buildLine([...gridPts(avgZ, 0), ...gridPts(avgZ2, 5)], spikesZ, 1.5);
  const tC = buildLine([...gridPts(avgC, 0), ...gridPts(avgC2, 5)], spikesC, 1.5);
  const tA = buildLine([...gridPts(avgA, 0), ...gridPts(avgA2, 5)], spikesA, 1.5);

  const pZ: Pt[] = [...gridPts(peakZ, 0), ...gridPts(peakZ2, 5), ...peakEvents.map((e) => [e[0], e[1]] as Pt)];
  const pC: Pt[] = [...gridPts(peakC, 0), ...gridPts(peakC2, 5), ...peakEvents.map((e) => [e[0], e[2]] as Pt)];
  const pA: Pt[] = [...gridPts(peakA, 0), ...gridPts(peakA2, 5), ...peakEvents.map((e) => [e[0], e[3]] as Pt)];

  const bZ = buildLine(gridPts(botZ, 0), botSpikesZ, 3);
  const bC = buildLine(gridPts(botC, 0), botSpikesC, 3);
  const bA = buildLine(gridPts(botA, 0), botSpikesA, 3);

  // envelope: upper edge with narrow 15 s spikes, lower edge from envMin
  const upper = buildLine(gridPts(envMax, 0), envSpikes, 1.4);
  const envPts = upper.map(([m, v]) => {
    const i = Math.min(envMin.length - 1, Math.max(0, Math.round(m / STEP)));
    return { m, hi: v, lo: envMin[i] };
  });
  const env = d3
    .area<{ m: number; hi: number; lo: number }>()
    .x((d) => x(d.m))
    .y0((d) => yB(d.lo))
    .y1((d) => yB(d.hi));

  const fmtTop = (m: number) => `${pad2(Math.floor(m / 60))}:00`;
  const fmtBot = (m: number) => `${pad2(Math.floor(m / 60))}:00:00`;

  return (
    <div style={{ position: 'absolute', left: 0, top: 0 }}>
      <svg width={2400} height={1200} style={{ display: 'block', background: '#fff' }} fontFamily={FONT}>
        <defs>
          <clipPath id="clipT"><rect x={X_L} y={84} width={X_R - X_L} height={504} /></clipPath>
          <clipPath id="clipB"><rect x={X_L} y={645} width={X_R - X_L} height={504} /></clipPath>
        </defs>
        <text x={24} y={23} fontSize={14} fontWeight="bold">data from [5002/mic0]</text>
        <text x={24} y={39} fontSize={14} fontWeight="bold">starting point is [20251005_000013]</text>

        {/* top panel */}
        <text x={X_L} y={76} fontSize={11.5} fontWeight="bold">average and peak noise level (1 min sampling)</text>
        <Frame x={x} y={yT} y0={84} y1={588} fmt={fmtTop} layer="back" />
        <g clipPath="url(#clipT)">
          <path d={plusPath(pZ, x, yT)} stroke="#1e90ff" strokeOpacity={0.7} strokeWidth={1.1} fill="none" />
          <path d={plusPath(pC, x, yT)} stroke="#ff00ff" strokeOpacity={0.7} strokeWidth={1.1} fill="none" />
          <path d={plusPath(pA, x, yT)} stroke="#2e8b57" strokeOpacity={0.8} strokeWidth={1.1} fill="none" />
          <path d={lineT(tZ) || ''} stroke="#4682b4" strokeWidth={1.5} fill="none" />
          <path d={lineT(tC) || ''} stroke="#da70d6" strokeWidth={1.5} fill="none" />
          <path d={lineT(tA) || ''} stroke="#9acd32" strokeWidth={1.5} fill="none" />
        </g>
        <Frame x={x} y={yT} y0={84} y1={588} fmt={fmtTop} layer="front" />
        <g fontFamily={FONT} fontSize={9.5}>
          <rect x={2155} y={542} width={183} height={41} rx={3} fill={BG} fillOpacity={0.85} stroke="#d9c29c" strokeWidth={1} />
          {[
            ['peak dB(Z)', '#1e90ff', 'avg dB(Z)', '#4682b4'],
            ['peak dB(C)', '#ff00ff', 'avg dB(C)', '#da70d6'],
            ['peak dB(A)', '#2e8b57', 'avg dB(A)', '#9acd32'],
          ].map((r, i) => {
            const yy = 550 + i * 11.8;
            return (
              <g key={r[0]}>
                <circle cx={2169.3} cy={yy} r={2.2} fill={r[1]} />
                <text x={2186} y={yy} dominantBaseline="central">{r[0]}</text>
                <line x1={2257.7} x2={2280} y1={yy} y2={yy} stroke={r[3]} strokeWidth={3.5} />
                <text x={2286} y={yy} dominantBaseline="central">{r[2]}</text>
              </g>
            );
          })}
        </g>

        {/* bottom panel */}
        <text x={X_L} y={636.7} fontSize={11.5} fontWeight="bold">average noise level (5 min with 15s min/max dB envelope)</text>
        <Frame x={x} y={yB} y0={645} y1={1149} fmt={fmtBot} layer="back" />
        <g clipPath="url(#clipB)">
          <path d={env(envPts) || ''} fill="#f08080" fillOpacity={0.36} stroke="none" />
          <path d={lineB(bZ) || ''} stroke="#dc143c" strokeWidth={1.5} fill="none" />
          <path d={lineB(bC) || ''} stroke="#ff8c00" strokeWidth={1.5} fill="none" />
          <path d={lineB(bA) || ''} stroke="#ffd700" strokeWidth={1.5} fill="none" />
        </g>
        <Frame x={x} y={yB} y0={645} y1={1149} fmt={fmtBot} layer="front" />
        <g fontFamily={FONT} fontSize={9.5}>
          <rect x={2277} y={1103} width={61} height={41} rx={3} fill={BG} fillOpacity={0.85} stroke="#d9c29c" strokeWidth={1} />
          {[
            ['dB(Z)', '#dc143c'],
            ['dB(C)', '#ff8c00'],
            ['dB(A)', '#ffd700'],
          ].map((r, i) => {
            const yy = 1111.7 + i * 11.6;
            return (
              <g key={r[0]}>
                <line x1={2279} x2={2301} y1={yy} y2={yy} stroke={r[1]} strokeWidth={3.5} />
                <text x={2307.7} y={yy} dominantBaseline="central">{r[0]}</text>
              </g>
            );
          })}
        </g>
      </svg>
    </div>
  );
}
